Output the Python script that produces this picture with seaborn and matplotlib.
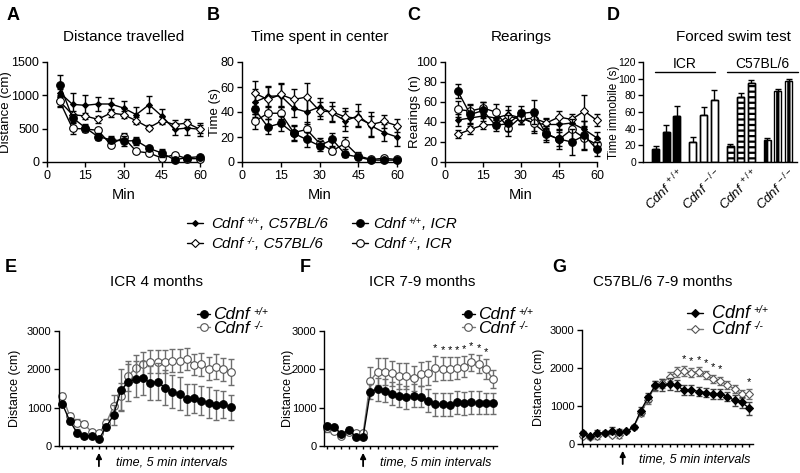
import matplotlib
matplotlib.use("Agg")
import matplotlib.pyplot as plt
import seaborn as sns
from matplotlib.lines import Line2D
from matplotlib.text import Annotation

# ---------------- data ----------------
minutes = [5, 10, 15, 20, 25, 30, 35, 40, 45, 50, 55, 60]

# A distance travelled (cm)
dist_c57_wt = [1040, 865, 850, 870, 870, 810, 710, 860, 690, 490, 510, 490]
dist_c57_wt_err = [60, 170, 150, 110, 90, 100, 110, 130, 100, 90, 110, 100]
dist_c57_ko = [910, 710, 690, 640, 735, 710, 620, 515, 620, 560, 585, 490]
dist_c57_ko_err = [70, 60, 50, 50, 60, 50, 50, 40, 50, 70, 60, 60]
dist_icr_wt = [1160, 665, 515, 380, 335, 315, 320, 205, 135, 35, 65, 80]
dist_icr_wt_err = [150, 60, 50, 50, 50, 80, 60, 30, 60, 20, 30, 30]
dist_icr_ko = [910, 505, 495, 475, 260, 370, 160, 135, 60, 110, 50, 50]
dist_icr_ko_err = [80, 80, 40, 30, 30, 60, 20, 20, 20, 20, 20, 20]

# B time spent in center (s)
time_c57_wt = [48, 52.5, 53, 43, 40, 44, 39, 33, 37, 29, 23.5, 20]
time_c57_wt_err = [10, 8, 9, 7, 10, 7, 6, 8, 9, 8, 7, 7]
time_c57_ko = [55, 50, 54, 50, 52, 41, 40, 36, 35, 30, 32.5, 29]
time_c57_ko_err = [10, 10, 9, 8, 11, 7, 8, 7, 6, 10, 5, 5]
time_icr_wt = [42, 28, 31, 23, 18, 13, 18, 6, 4, 1.5, 1.5, 1.5]
time_icr_wt_err = [6, 6, 6, 6, 6, 4, 5, 2, 2, 1, 1, 1]
time_icr_ko = [32.5, 39, 39, 23.5, 26, 15, 9, 15, 5, 2, 3, 2]
time_icr_ko_err = [6, 5, 5, 6, 6, 4, 3, 5, 3, 1, 1, 1]

# C rearings (n)
rear_c57_wt = [42, 44, 46, 44, 47.5, 44, 39, 37.5, 37.5, 39, 32.5, 24]
rear_c57_wt_err = [6, 8, 8, 6, 8, 6, 8, 5, 6, 6, 8, 6]
rear_c57_ko = [27.5, 32.5, 37, 37.5, 46, 42.5, 44, 39, 45, 42.5, 51, 41.5]
rear_c57_ko_err = [4, 5, 4, 4, 6, 5, 5, 5, 6, 5, 16, 6]
rear_icr_wt = [71, 47.5, 51.5, 36.5, 38.5, 48.5, 50, 27.5, 23, 20, 26.5, 12.5]
rear_icr_wt_err = [7, 9, 8, 6, 8, 7, 12, 8, 10, 13, 14, 7]
rear_icr_ko = [52.5, 51, 54, 50, 34, 45, 38.5, 28.5, 22.5, 32.5, 24, 17.5]
rear_icr_ko_err = [8, 7, 6, 8, 8, 7, 10, 7, 7, 10, 12, 5]

# D forced swim test, time immobile (s), three bars per group
fst_icr_wt = [16, 36, 55]
fst_icr_wt_err = [3, 8, 12]
fst_icr_ko = [24, 56, 74]
fst_icr_ko_err = [6, 10, 12]
fst_c57_wt = [19, 78, 95]
fst_c57_wt_err = [3, 5, 3]
fst_c57_ko = [26, 85, 97]
fst_c57_ko_err = [3, 2, 2]

# E-G distance per 5 min interval
intervals = list(range(1, 25))
e_wt = [1100, 660, 350, 250, 270, 180, 500, 810, 1460, 1660, 1750, 1770, 1650, 1680, 1520,
        1420, 1360, 1220, 1240, 1180, 1130, 1070, 1090, 1010]
e_wt_err = [60, 80, 90, 50, 50, 60, 80, 250, 550, 480, 460, 450, 450, 480, 450, 420, 430,
            400, 380, 380, 400, 380, 350, 320]
e_ko = [1310, 790, 610, 570, 370, 330, 600, 1040, 1300, 1830, 2030, 2140, 2200, 2200, 2200,
        2220, 2220, 2270, 2120, 2130, 2020, 2070, 2000, 1930]
e_ko_err = [80, 60, 90, 80, 50, 60, 100, 300, 350, 400, 350, 320, 300, 300, 300, 300, 300,
            280, 280, 300, 300, 320, 300, 350]

f_wt = [530, 490, 305, 420, 245, 245, 1420, 1480, 1435, 1360, 1315, 1270, 1305, 1290, 1185,
        1095, 1095, 1070, 1140, 1115, 1140, 1130, 1115, 1115]
f_wt_err = [80, 70, 50, 70, 50, 50, 200, 300, 300, 300, 300, 300, 300, 280, 300, 300, 300,
            300, 300, 300, 300, 300, 280, 280]
f_ko = [460, 390, 260, 375, 350, 330, 1700, 1940, 1940, 1900, 1830, 1830, 1770, 1880, 1900,
        2030, 2010, 2010, 2030, 2070, 2185, 2140, 2010, 1740]
f_ko_err = [90, 60, 40, 60, 50, 40, 350, 350, 350, 330, 330, 330, 330, 320, 320, 330, 300,
            300, 280, 280, 220, 230, 250, 230]
f_stars = [16, 17, 18, 19, 20, 21, 22, 23]

g_wt = [290, 200, 290, 290, 350, 315, 330, 445, 875, 1225, 1540, 1555, 1575, 1540, 1410,
        1425, 1380, 1355, 1320, 1310, 1250, 1145, 1095, 945]
g_wt_err = [60, 50, 80, 60, 90, 80, 50, 60, 100, 120, 120, 150, 150, 150, 130, 130, 120,
            120, 130, 130, 130, 150, 150, 170]
g_ko = [220, 185, 200, 290, 245, 245, 330, 445, 815, 1165, 1530, 1600, 1775, 1890, 1925,
        1880, 1905, 1820, 1715, 1660, 1555, 1445, 1310, 1310]
g_ko_err = [70, 50, 60, 60, 70, 90, 50, 60, 80, 120, 130, 120, 130, 130, 130, 120, 120,
            110, 110, 110, 100, 100, 110, 130]
g_stars = [15, 16, 17, 18, 19, 20, 24]

# ---------------- style ----------------
sns.set_style("ticks")
plt.rcParams["font.family"] = ["Liberation Sans", "DejaVu Sans"]
plt.rcParams["mathtext.fontset"] = "custom"
plt.rcParams["mathtext.it"] = "Liberation Sans:italic"
plt.rcParams["mathtext.rm"] = "Liberation Sans"
plt.rcParams["mathtext.default"] = "it"
plt.rcParams["hatch.linewidth"] = 1.6
plt.rcParams["axes.linewidth"] = 1.0
for k in ["text.color", "axes.labelcolor", "xtick.color", "ytick.color", "axes.edgecolor"]:
    plt.rcParams[k] = "black"

W, H = 800, 473
fig = plt.figure(figsize=(8, 4.73), dpi=100)


def px_axes(l, t, r, b):
    return fig.add_axes([l / W, 1 - b / H, (r - l) / W, (b - t) / H])


def draw_series(ax, x, vals, errs, line_color, err_color, z, **marker):
    ax.errorbar(x, vals, yerr=errs, fmt="none", ecolor=err_color, elinewidth=1,
                capsize=2, capthick=1, zorder=z, clip_on=False)
    sns.lineplot(x=x, y=vals, ax=ax, color=line_color, linewidth=1, legend=False,
                 errorbar=None, zorder=z + 0.5, clip_on=False, **marker)


def cdnf_text(x, y, sup, tail, size, sup_size):
    # "Cdnf" in italics with a small superscript genotype, then optional tail text
    t = fig.text(x / W, 1 - y / H, "Cdnf", fontsize=size, style="italic", va="baseline")
    s = Annotation(sup, xy=(1, 1), xycoords=t, xytext=(2.5, 0), textcoords="offset points",
                   fontsize=sup_size, style="italic", va="top", ha="left")
    fig.add_artist(s)
    if tail:
        r = Annotation(tail, xy=(1, 0), xycoords=(s, t), xytext=(0, 0),
                       textcoords="offset points", fontsize=size, style="italic",
                       va="bottom", ha="left")
        fig.add_artist(r)


def key(x0, x1, y, tx, ty, sup, tail, size, sup_size, color, **marker):
    fig.add_artist(Line2D([x0 / W, (x0 + x1) / 2 / W, x1 / W], [1 - y / H] * 3,
                          color=color, lw=1, markevery=[1], **marker))
    cdnf_text(tx, ty, sup, tail, size, sup_size)


c57_wt_m = dict(marker="D", markersize=3, markerfacecolor="k", markeredgecolor="k", markeredgewidth=0.8)
c57_ko_m = dict(marker="D", markersize=4.2, markerfacecolor="white", markeredgecolor="k", markeredgewidth=0.8)
icr_wt_m = dict(marker="o", markersize=5.5, markerfacecolor="k", markeredgecolor="k", markeredgewidth=0.8)
icr_ko_m = dict(marker="o", markersize=5.5, markerfacecolor="white", markeredgecolor="k", markeredgewidth=0.8)

# ---------------- top row: open field ----------------
top = [
    (px_axes(47, 62, 200, 162), "A", "Distance travelled", "Distance (cm)", (0, 1500),
     [0, 500, 1000, 1500], -0.228,
     [(dist_c57_wt, dist_c57_wt_err, c57_wt_m), (dist_c57_ko, dist_c57_ko_err, c57_ko_m),
      (dist_icr_ko, dist_icr_ko_err, icr_ko_m), (dist_icr_wt, dist_icr_wt_err, icr_wt_m)]),
    (px_axes(242, 62, 397, 162), "B", "Time spent in center", "Time (s)", (0, 80),
     [0, 20, 40, 60, 80], -0.135,
     [(time_c57_wt, time_c57_wt_err, c57_wt_m), (time_c57_ko, time_c57_ko_err, c57_ko_m),
      (time_icr_ko, time_icr_ko_err, icr_ko_m), (time_icr_wt, time_icr_wt_err, icr_wt_m)]),
    (px_axes(445, 62, 597, 162), "C", "Rearings", "Rearings (n)", (0, 100),
     [0, 20, 40, 60, 80, 100], -0.158,
     [(rear_c57_wt, rear_c57_wt_err, c57_wt_m), (rear_c57_ko, rear_c57_ko_err, c57_ko_m),
      (rear_icr_ko, rear_icr_ko_err, icr_ko_m), (rear_icr_wt, rear_icr_wt_err, icr_wt_m)]),
]
letter_x = {"A": 7, "B": 207, "C": 407}
for ax, letter, title, ylab, ylim, yticks, ylab_x, series in top:
    for i, (vals, errs, m) in enumerate(series):
        draw_series(ax, minutes, vals, errs, "k", "k", 2 + i, **m)
    ax.set_xlim(0, 60)
    ax.set_ylim(*ylim)
    ax.set_xticks([0, 15, 30, 45, 60])
    ax.set_yticks(yticks)
    ax.tick_params(labelsize=9, length=3.5, width=1, pad=2)
    ax.set_ylabel(ylab, fontsize=9.5)
    ax.yaxis.set_label_coords(ylab_x, 0.5)
    ax.set_xlabel("Min", fontsize=10.5)
    ax.xaxis.set_label_coords(0.5, -0.26)
    sns.despine(ax=ax)
    pos = ax.get_position()
    fig.text((pos.x0 + pos.x1) / 2, 1 - 37 / H, title, fontsize=11, ha="center", va="center")
    fig.text(letter_x[letter] / W, 1 - 15 / H, letter, fontsize=13, weight="bold", va="center")

# middle legend
key(187, 203, 223, 211, 228, "+/+", ", C57BL/6", 11, 6.5, "k", **c57_wt_m)
key(187, 203, 243, 211, 248, "-/-", ", C57BL/6", 11, 6.5, "k", **c57_ko_m)
key(352, 368, 223, 373, 228, "+/+", ", ICR", 11, 6.5, "k", **icr_wt_m)
key(352, 368, 243, 373, 248, "-/-", ", ICR", 11, 6.5, "k", **icr_ko_m)

# ---------------- D: forced swim test ----------------
axd = px_axes(643, 62, 797, 162)
groups = [
    (fst_icr_wt, fst_icr_wt_err, dict(color="k", edgecolor="k", linewidth=1)),
    (fst_icr_ko, fst_icr_ko_err, dict(color="white", edgecolor="k", linewidth=1)),
    (fst_c57_wt, fst_c57_wt_err, dict(color="white", edgecolor="k", linewidth=1, hatch="---")),
    (fst_c57_ko, fst_c57_ko_err, dict(color="k", edgecolor="white", linewidth=0, hatch="|||")),
]
group_labels = [r"Cdnf$^{\ +/+}$", r"Cdnf$^{\ -/-}$", r"Cdnf$^{\ +/+}$", r"Cdnf$^{\ -/-}$"]
for gi, (vals, errs, st) in enumerate(groups):
    xs = [gi * 3.5 + k for k in range(len(vals))]
    axd.bar(xs, vals, width=0.66, zorder=2, **st)
    # black outline on top of every bar
    axd.bar(xs, vals, width=0.66, fill=False, edgecolor="k", linewidth=1, zorder=3)
    axd.errorbar(xs, vals, yerr=[[0] * len(errs), errs], fmt="none", ecolor="k",
                 elinewidth=1, capsize=2, capthick=1, zorder=1)
    axd.text(gi * 3.5 + 1 + 1.0, -5, group_labels[gi], rotation=45, ha="right", va="top",
             rotation_mode="anchor", fontsize=9.5, style="italic", clip_on=False)
axd.set_xlim(-1.2, 13.3)
axd.set_ylim(0, 120)
axd.set_xticks([])
axd.set_yticks([0, 20, 40, 60, 80, 100, 120])
axd.tick_params(labelsize=7.5, length=3.5, width=1, pad=1.5)
axd.set_ylabel("Time immobile (s)", fontsize=8.5)
axd.yaxis.set_label_coords(-0.15, 0.5)
sns.despine(ax=axd)
axd.plot([-0.1, 5.6], [108, 108], color="k", lw=1, clip_on=False)
axd.plot([6.7, 13.4], [108, 108], color="k", lw=1, clip_on=False)
axd.text(2.75, 118, "ICR", ha="center", va="center", fontsize=10, clip_on=False)
axd.text(10.05, 118, "C57BL/6", ha="center", va="center", fontsize=10, clip_on=False)
fig.text(733 / W, 1 - 37 / H, "Forced swim test", fontsize=11, ha="center", va="center")
fig.text(607 / W, 1 - 15 / H, "D", fontsize=13, weight="bold", va="center")

# ---------------- bottom row ----------------
gray = "#7a7a7a"
e_wt_m = dict(marker="o", markersize=5.5, markerfacecolor="k", markeredgecolor="k", markeredgewidth=0.8)
e_ko_m = dict(marker="o", markersize=5.5, markerfacecolor="white", markeredgecolor="#555555", markeredgewidth=0.8)
g_wt_m = dict(marker="D", markersize=3.6, markerfacecolor="k", markeredgecolor="k", markeredgewidth=0.8)
g_ko_m = dict(marker="D", markersize=4.4, markerfacecolor="white", markeredgecolor="#555555", markeredgewidth=0.8)

bottom = [
    (px_axes(59, 331, 233, 446), "E", 5, "ICR 4 months", 157, (0.55, 24.3), -0.218,
     e_wt, e_wt_err, e_ko, e_ko_err, e_wt_m, e_ko_m, [], 6, "#6e6e6e"),
    (px_axes(324, 331, 497, 446), "F", 300, "ICR 7-9 months", 422, (0.58, 24.55), -0.175,
     f_wt, f_wt_err, f_ko, f_ko_err, e_wt_m, e_ko_m, f_stars, 6, "#6e6e6e"),
    (px_axes(582, 330, 753, 444), "G", 552, "C57BL/6 7-9 months", 663, (0.86, 24.55), -0.216,
     g_wt, g_wt_err, g_ko, g_ko_err, g_wt_m, g_ko_m, g_stars, 6.5, "#444444"),
]
for (ax, letter, lx, title, tx, xlim, ylab_x, wt, wt_err, ko, ko_err,
     wt_m, ko_m, stars, arrow_at, wt_ecol) in bottom:
    draw_series(ax, intervals, ko, ko_err, gray, "#6e6e6e", 2, **ko_m)
    draw_series(ax, intervals, wt, wt_err, "k", wt_ecol, 4, **wt_m)
    for s in stars:
        top_val = max(ko[s - 1] + ko_err[s - 1], wt[s - 1] + wt_err[s - 1])
        ax.text(s, top_val + 60, "*", ha="center", va="bottom", fontsize=8)
    ax.set_xlim(*xlim)
    ax.set_ylim(0, 3000)
    ax.set_xticks(intervals)
    ax.set_xticklabels([])
    ax.set_yticks([0, 1000, 2000, 3000])
    ax.tick_params(axis="y", labelsize=8, length=3.5, width=1, pad=2)
    ax.tick_params(axis="x", length=2.5, width=1)
    ax.set_ylabel("Distance (cm)", fontsize=9)
    ax.yaxis.set_label_coords(ylab_x, 0.5)
    sns.despine(ax=ax)
    ax.annotate("", xy=(arrow_at, -0.035), xycoords=("data", "axes fraction"),
                xytext=(arrow_at, -0.2), textcoords=("data", "axes fraction"),
                arrowprops=dict(arrowstyle="-|>", color="k", lw=1.3, mutation_scale=8))
    ax.text(arrow_at + 2.3, -0.14, "time, 5 min intervals", transform=ax.get_xaxis_transform(),
            fontsize=9, style="italic", va="center")
    fig.text(tx / W, 1 - 282 / H, title, fontsize=11, ha="center", va="center")
    fig.text(lx / W, 1 - 268 / H, letter, fontsize=13, weight="bold", va="center")

# legends of E, F, G
key(197, 210, 314, 213, 319, "+/+", "", 12.5, 7.5, "k", **e_wt_m)
key(197, 210, 327, 213, 333, "-/-", "", 12.5, 7.5, gray, **e_ko_m)
key(462, 475, 314, 478, 319, "+/+", "", 12.5, 7.5, "k", **e_wt_m)
key(462, 475, 327, 478, 333, "-/-", "", 12.5, 7.5, gray, **e_ko_m)
key(687, 703, 313, 712, 318, "+/+", "", 13, 7.5, "k", **g_wt_m)
key(687, 703, 329, 712, 334, "-/-", "", 13, 7.5, gray, **g_ko_m)

fig.savefig("out.png", dpi=100)
